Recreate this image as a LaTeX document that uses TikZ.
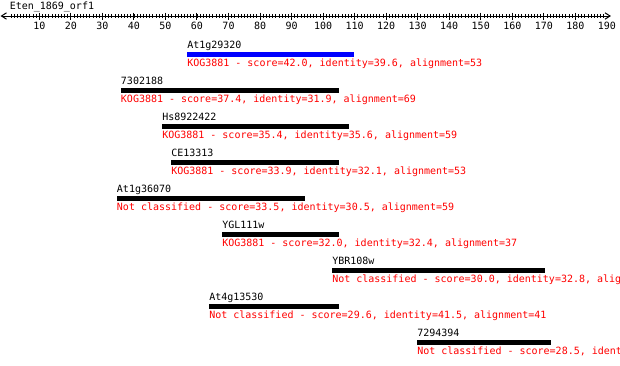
\documentclass[tikz,border=0pt]{standalone}
\usepackage{fontspec}
\setmonofont{DejaVu Sans Mono}
\begin{document}
\begin{tikzpicture}[x=0.75pt,y=-0.75pt,
  lbl/.style={font=\ttfamily\fontsize{7.5pt}{9pt}\selectfont, inner sep=0pt, anchor=base west, text=black},
  info/.style={lbl, text=red},
  num/.style={font=\ttfamily\fontsize{7.5pt}{9pt}\selectfont, inner sep=0pt, anchor=base},
  axisline/.style={line width=0.75pt, black},
  hitbar/.style={fill=black},
  bestbar/.style={fill=blue}]
\useasboundingbox (0,0) rectangle (620,365);
\clip (0,0) rectangle (620,365);
% title
\node[lbl] (title) at (9.5,9.5) {Eten\_1869\_orf1};
% axis
\coordinate (axL) at (1.5,16);
\coordinate (axR) at (610,16);
\draw[axisline] (axL) -- (axR);
\draw[axisline] (6.5,12.8) -- (axL) -- (6.5,19.2);
\draw[axisline] (605,12.8) -- (axR) -- (605,19.2);
\foreach \v in {1,...,189} {
  \draw[line width=0.6pt] ({7.8+3.153*\v},14.2) -- ({7.8+3.153*\v},17.8);
}
\foreach \v in {10,20,...,180} {
  \draw[line width=0.75pt] ({7.8+3.153*\v},12.5) -- ({7.8+3.153*\v},19.5);
}
\foreach \v in {10,20,...,190} {
  \node[num] (n\v) at ({7.8+3.153*\v},29) {\v};
}
% rows
\foreach \i/\xa/\xb/\nm/\txt/\st in {
  1/187/354.3/At1g29320/{KOG3881 - score=42.0, identity=39.6, alignment=53}/bestbar,
  2/120.7/339/7302188/{KOG3881 - score=37.4, identity=31.9, alignment=69}/hitbar,
  3/162/349/Hs8922422/{KOG3881 - score=35.4, identity=35.6, alignment=59}/hitbar,
  4/171/339/CE13313/{KOG3881 - score=33.9, identity=32.1, alignment=53}/hitbar,
  5/116.7/304.7/At1g36070/{Not classified - score=33.5, identity=30.5, alignment=59}/hitbar,
  6/222/339/YGL111w/{KOG3881 - score=32.0, identity=32.4, alignment=37}/hitbar,
  7/332/545/YBR108w/{Not classified - score=30.0, identity=32.8, alig}/hitbar,
  8/209/339/At4g13530/{Not classified - score=29.6, identity=41.5, alignment=41}/hitbar,
  9/417/551/7294394/{Not classified - score=28.5, ident}/hitbar} {
  \pgfmathsetmacro{\yt}{52+36*(\i-1)}
  \fill[\st] (\xa,\yt) rectangle (\xb,\yt+4.7);
  \node[lbl] (name\i) at (\xa,\yt-3.8) {\nm};
  \node[info] (info\i) at (\xa,\yt+14) {\txt};
}
\end{tikzpicture}
\end{document}
